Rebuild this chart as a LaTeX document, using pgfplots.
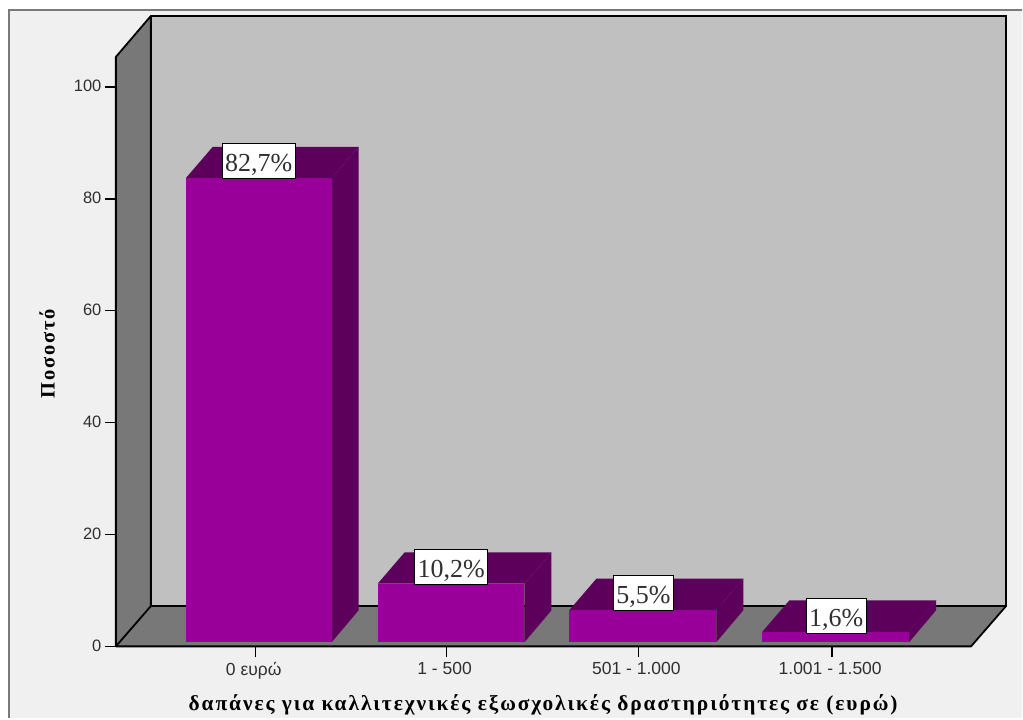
\documentclass[border=0pt]{standalone}
\usepackage{fontspec}
\setmainfont{Liberation Sans}
\newfontfamily\timesfont{Liberation Serif}
\newfontfamily\labelfont[LetterSpace=9]{Liberation Serif}
\usepackage{pgfplots}
\pgfplotsset{compat=1.18}

\definecolor{pagebg}{HTML}{F0F0F0}
\definecolor{wallback}{HTML}{C0C0C0}
\definecolor{wallside}{HTML}{787878}
\definecolor{barfront}{HTML}{990099}
\definecolor{bardark}{HTML}{5C005C}
\definecolor{framegray}{HTML}{7A7A7A}
\definecolor{inkgray}{HTML}{303030}

\begin{document}
\begin{tikzpicture}
% page and outer frame, 1pt = 1 pixel of the reference, axis origin at (116,647)
\fill[white] (-116pt,-72pt) rectangle (907pt,647pt);
\fill[pagebg] (-107pt,-72pt) rectangle (907pt,637pt);
\draw[framegray,line width=2pt] (-107pt,-72pt) -- (-107pt,637pt) -- (907pt,637pt);
\begin{axis}[
    at={(0pt,0pt)}, anchor=south west,
    scale only axis,
    width=891pt, height=631pt,
    xmin=116, xmax=1007,
    ymin=0, ymax=112.68,
    clip=false,
    axis line style={draw=none},
    tick align=outside,
    major tick length=11pt,
    tick style={black,line width=1.4pt},
    xtick pos=bottom, ytick pos=left,
    xtick={256,447,639,833},
    xticklabels={0 ευρώ,1 - 500,501 - 1.000,1.001 - 1.500},
    ytick={0,20,40,60,80,100},
    /pgf/number format/assume math mode=true,
    tick label style={font=\fontsize{16.5}{20}\selectfont,text=inkgray},
    xticklabel style={font=\fontsize{17.5}{20}\selectfont,yshift=-1pt,xshift=-2pt},
    yticklabel style={yshift=1pt},
    xlabel={\labelfont\bfseries δαπάνες για καλλιτεχνικές εξωσχολικές δραστηριότητες σε (ευρώ)},
    ylabel={\labelfont\bfseries Ποσοστό},
    xlabel style={at={(rel axis cs:0.480,-0.0925)},anchor=center,font=\fontsize{21.4}{24}\selectfont},
    ylabel style={at={(rel axis cs:-0.0774,0.464)},anchor=center,font=\fontsize{20.5}{24}\selectfont},
]
% walls and floor
\addplot[fill=wallback,draw=none] coordinates {(151,7.2) (151,112.68) (1007,112.68) (1007,7.2)} -- cycle;
\addplot[fill=wallside,draw=none] coordinates {(116,0) (116,105.36) (151,112.68) (151,7.2)} -- cycle;
\addplot[fill=wallside,draw=none] coordinates {(116,0) (151,7.2) (1007,7.2) (972,0)} -- cycle;
\addplot[black,line width=1.8pt] coordinates {(116,0) (116,105.36) (151,112.68) (1007,112.68) (1007,7.2) (151,7.2) (151,112.68)};
\addplot[black,line width=1.8pt] coordinates {(116,0) (151,7.2)};
\addplot[black,line width=1.8pt] coordinates {(116,0) (972,0) (1007,7.2)};
% bar 82,7
\addplot[fill=bardark,draw=none] coordinates {(186,83.7) (213,89.3) (359,89.3) (332,83.7)} -- cycle;
\addplot[fill=bardark,draw=none] coordinates {(332,0.75) (359,6.45) (359,89.3) (332,83.7)} -- cycle;
\addplot[fill=barfront,draw=none] coordinates {(186,0.75) (186,83.7) (332,83.7) (332,0.75)} -- cycle;
% bar 10,2
\addplot[fill=bardark,draw=none] coordinates {(378,11.2) (405,16.8) (552,16.8) (525,11.2)} -- cycle;
\addplot[fill=bardark,draw=none] coordinates {(525,0.75) (552,6.45) (552,16.8) (525,11.2)} -- cycle;
\addplot[fill=barfront,draw=none] coordinates {(378,0.75) (378,11.2) (525,11.2) (525,0.75)} -- cycle;
% bar 5,5
\addplot[fill=bardark,draw=none] coordinates {(570,6.5) (597,12.1) (744,12.1) (717,6.5)} -- cycle;
\addplot[fill=bardark,draw=none] coordinates {(717,0.75) (744,6.45) (744,12.1) (717,6.5)} -- cycle;
\addplot[fill=barfront,draw=none] coordinates {(570,0.75) (570,6.5) (717,6.5) (717,0.75)} -- cycle;
% bar 1,6
\addplot[fill=bardark,draw=none] coordinates {(763,2.6) (790,8.2) (937,8.2) (910,2.6)} -- cycle;
\addplot[fill=bardark,draw=none] coordinates {(910,0.75) (937,6.45) (937,8.2) (910,2.6)} -- cycle;
\addplot[fill=barfront,draw=none] coordinates {(763,0.75) (763,2.6) (910,2.6) (910,0.75)} -- cycle;
% value boxes
\addplot[draw=none,mark=none,
    nodes near coords,
    point meta=explicit symbolic,
    every node near coord/.style={anchor=center,fill=white,draw=black,line width=1pt,
        inner xsep=3pt,inner ysep=0pt,minimum height=35pt,text=inkgray,
        text height=21pt,text depth=0pt,
        font=\timesfont\fontsize{26}{28}\selectfont},
] table[meta=lab] {
x y lab
259 86.8 {82,7\%}
451.6 14.2 {10,2\%}
644 9.46 {5,5\%}
837 5.5 {1,6\%}
};
\end{axis}
\end{tikzpicture}
\end{document}
